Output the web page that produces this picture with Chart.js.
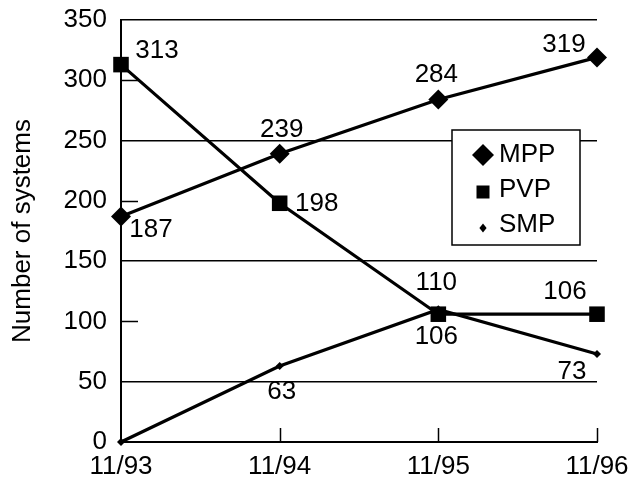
<!DOCTYPE html>
<html>
<head>
<meta charset="utf-8">
<script src="https://cdn.jsdelivr.net/npm/chart.js@4/dist/chart.umd.min.js"></script>
<style>
  html, body { margin: 0; padding: 0; background: #fff; }
  #wrap { width: 629px; height: 479px; position: relative; }
</style>
</head>
<body>
<div id="wrap"><canvas id="c"></canvas></div>
<script>
// Installed systems by architecture, November of each year
const categories = ['11/93', '11/94', '11/95', '11/96'];
const mppValues = [187, 239, 284, 319];
const pvpValues = [313, 198, 106, 106];
const smpValues = [0, 63, 110, 73];
const yTicks = [0, 50, 100, 150, 200, 250, 300, 350];
const seriesNames = ['MPP', 'PVP', 'SMP'];

const FONT = '"Liberation Sans", Arial, Helvetica, sans-serif';
const FS = 26;

// Where each value label sits relative to its point (dx, dy in px); null = no label
const labelOffsets = [
  [[30, 13], [2, -24], [-2, -25], [-33, -13]],
  [[36, -14], [37, 1], [-2, 23], [-32, -22]],
  [null, [2, 26], [-2, -27], [-25, 18]]
];

// Short inward tick marks on both axes
const innerTicks = {
  id: 'innerTicks',
  afterDraw(chart) {
    const { ctx, scales: { x, y } } = chart;
    ctx.save();
    ctx.strokeStyle = '#000';
    ctx.lineWidth = 1.5;
    [100, 200, 300].forEach(v => {
      const py = Math.round(y.getPixelForValue(v)) + 0.5;
      ctx.beginPath();
      ctx.moveTo(x.left, py);
      ctx.lineTo(x.left + 17, py);
      ctx.stroke();
    });
    for (let i = 1; i < categories.length; i++) {
      const px = Math.round(x.getPixelForValue(i)) + 0.5;
      ctx.beginPath();
      ctx.moveTo(px, y.bottom);
      ctx.lineTo(px, y.bottom - 14);
      ctx.stroke();
    }
    ctx.restore();
  }
};

// Value labels next to each point
const valueLabels = {
  id: 'valueLabels',
  afterDatasetsDraw(chart) {
    const { ctx } = chart;
    ctx.save();
    ctx.font = FS + 'px ' + FONT;
    ctx.fillStyle = '#000';
    ctx.textAlign = 'center';
    ctx.textBaseline = 'middle';
    chart.data.datasets.forEach((ds, di) => {
      const meta = chart.getDatasetMeta(di);
      meta.data.forEach((pt, i) => {
        const off = labelOffsets[di][i];
        if (!off) return;
        ctx.fillText(String(ds.data[i]), pt.x + off[0], pt.y + off[1]);
      });
    });
    ctx.restore();
  }
};

// Boxed legend inside the plot area
const boxLegend = {
  id: 'boxLegend',
  afterDatasetsDraw(chart) {
    const { ctx, chartArea } = chart;
    const bx = chartArea.right - 145, by = chartArea.top + 110, bw = 128, bh = 115;
    ctx.save();
    ctx.fillStyle = '#fff';
    ctx.fillRect(bx, by, bw, bh);
    ctx.strokeStyle = '#000';
    ctx.lineWidth = 1.5;
    ctx.strokeRect(bx, by, bw, bh);
    ctx.fillStyle = '#000';
    ctx.font = FS + 'px ' + FONT;
    ctx.textAlign = 'left';
    ctx.textBaseline = 'middle';
    const mx = bx + 31;
    const rows = [by + 25, by + 60, by + 95];
    // MPP: large diamond
    let r = 11, cy = rows[0];
    ctx.beginPath();
    ctx.moveTo(mx, cy - r); ctx.lineTo(mx + r, cy); ctx.lineTo(mx, cy + r); ctx.lineTo(mx - r, cy);
    ctx.closePath(); ctx.fill();
    // PVP: square
    cy = rows[1] + 2;
    ctx.fillRect(mx - 6.5, cy - 6.5, 13, 13);
    // SMP: small diamond
    r = 4.5; cy = rows[2] + 3;
    ctx.beginPath();
    ctx.moveTo(mx, cy - r); ctx.lineTo(mx + r * 0.8, cy); ctx.lineTo(mx, cy + r); ctx.lineTo(mx - r * 0.8, cy);
    ctx.closePath(); ctx.fill();
    seriesNames.forEach((name, i) => ctx.fillText(name, bx + 47, rows[i]));
    ctx.restore();
  }
};

function series(label, data, style, radius) {
  return {
    label, data,
    borderColor: '#000', backgroundColor: '#000',
    borderWidth: 3.2, tension: 0,
    pointStyle: style, pointRadius: radius, pointHoverRadius: radius,
    pointBackgroundColor: '#000', pointBorderColor: '#000', pointBorderWidth: 0
  };
}

new Chart(document.getElementById('c'), {
  type: 'line',
  data: {
    labels: categories,
    datasets: [
      series(seriesNames[0], mppValues, 'rectRot', 10),
      series(seriesNames[1], pvpValues, 'rect', 11),
      series(seriesNames[2], smpValues, 'rectRot', 4)
    ]
  },
  options: {
    responsive: true,
    maintainAspectRatio: false,
    animation: false,
    events: [],
    layout: { padding: { top: 20, right: 32, left: 0, bottom: 0 } },
    plugins: { legend: { display: false }, tooltip: { enabled: false } },
    scales: {
      x: {
        type: 'category',
        offset: false,
        grid: { display: false },
        border: { display: true, color: '#000', width: 2 },
        ticks: { color: '#000', font: { family: FONT, size: FS }, padding: 1, maxRotation: 0, autoSkip: false },
        afterFit(s) { s.height = 37; s.paddingLeft = 0; s.paddingRight = 0; }
      },
      y: {
        min: 0, max: 350,
        afterBuildTicks(s) { s.ticks = yTicks.map(v => ({ value: v })); },
        grid: {
          drawTicks: false,
          color: c => (c.tick && c.tick.value % 100 === 50) ? '#000' : 'rgba(0,0,0,0)',
          lineWidth: 1.5
        },
        border: { display: true, color: '#000', width: 2 },
        ticks: { color: '#000', font: { family: FONT, size: FS }, padding: 14 },
        title: {
          display: true, text: 'Number of systems', color: '#000',
          font: { family: FONT, size: FS }, padding: { top: 7, bottom: 0 }
        },
        afterFit(s) { s.width = 121; s.paddingTop = 0; s.paddingBottom = 0; }
      }
    },
    clip: false
  },
  plugins: [innerTicks, valueLabels, boxLegend]
});
</script>
</body>
</html>
